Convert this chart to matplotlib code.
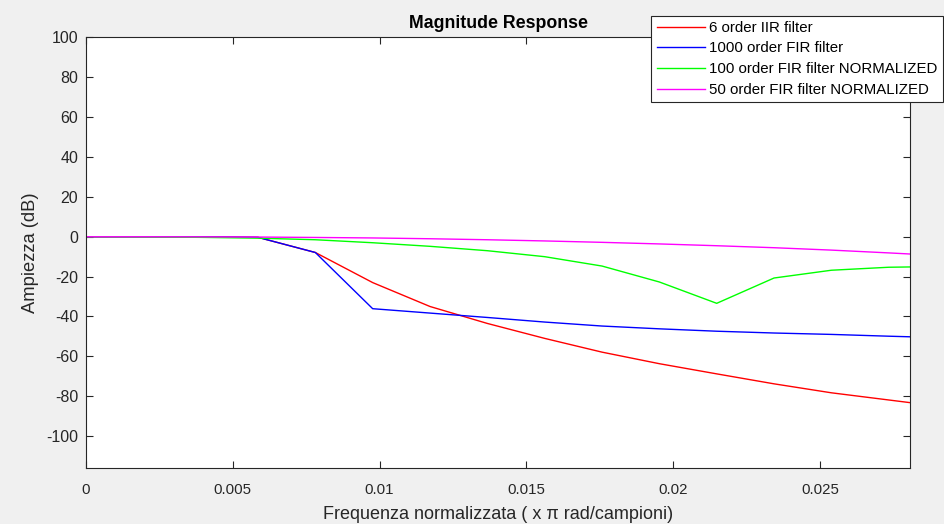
import matplotlib
matplotlib.use("Agg")
import matplotlib.pyplot as plt
import numpy as np

# Normalized frequency bins (k/512, x pi rad/sample)
bins = list(range(16))
n_fft = 512

iir6_db = [0.0, 0.0, -0.05, -0.3, -7.9, -23.0, -35.0, -43.5, -51.0,
           -57.9, -63.7, -68.8, -73.8, -78.3, -81.9, -85.5]
fir1000_db = [0.0, 0.0, -0.05, -0.3, -7.9, -36.1, -38.3, -40.5, -42.8,
              -44.8, -46.2, -47.4, -48.3, -49.0, -49.9, -50.7]
fir100n_db = [0.0, -0.1, -0.3, -0.7, -1.5, -3.0, -4.8, -7.0, -10.0,
              -14.7, -22.7, -33.4, -20.7, -16.8, -15.3, -14.9]
fir50n_db = [0.0, 0.0, -0.05, -0.15, -0.35, -0.6, -1.0, -1.5, -2.1,
             -2.8, -3.6, -4.5, -5.5, -6.7, -8.1, -9.6]

labels = ["6 order IIR filter", "1000 order FIR filter",
          "100 order FIR filter NORMALIZED", "50 order FIR filter NORMALIZED"]
colors = ["#ff0000", "#0000ff", "#00ff00", "#ff00ff"]

x_ticks = [0, 0.005, 0.01, 0.015, 0.02, 0.025]
x_tick_labels = ["0", "0.005", "0.01", "0.015", "0.02", "0.025"]
y_ticks = list(range(-100, 101, 20))

plt.rcParams['font.family'] = ['Liberation Sans', 'DejaVu Sans']
plt.rcParams['axes.unicode_minus'] = False

freq = np.array(bins) / n_fft

fig = plt.figure(figsize=(9.45, 5.24), dpi=100, facecolor="#f0f0f0")
ax = fig.add_axes([0.091, 0.107, 0.872, 0.8215])
ax.set_facecolor("white")

for ydata, lab, col in zip([iir6_db, fir1000_db, fir100n_db, fir50n_db], labels, colors):
    ax.plot(freq, ydata, color=col, lw=1.0, label=lab)

ax.set_xlim(0, 0.02807)
ax.set_ylim(-116, 100)
ax.set_xticks(x_ticks)
ax.set_xticklabels(x_tick_labels)
ax.set_yticks(y_ticks)

edge = "#262626"
for sp in ax.spines.values():
    sp.set_color(edge)
    sp.set_linewidth(0.8)
ax.tick_params(direction="in", length=5, width=0.8, colors=edge,
               labelcolor=edge, top=True, right=True)
ax.tick_params(axis="x", labelsize=10.8, pad=11)
ax.tick_params(axis="y", labelsize=11.5, pad=5.5)

ax.set_title("Magnitude Response", fontsize=12.8, fontweight="bold", color="black", pad=7)
ax.set_ylabel("Ampiezza (dB)", fontsize=13.2, color=edge, labelpad=5)
ax.set_xlabel("Frequenza normalizzata ( x \u03c0 rad/campioni)", fontsize=13,
              color=edge, labelpad=6)

leg = fig.legend(loc="upper left", bbox_to_anchor=(651.5 / 945, 1 - 15.5 / 524),
                 fontsize=10.8, frameon=True, fancybox=False, handlelength=3.2,
                 handletextpad=0.3, labelspacing=0.45, borderpad=0.35,
                 borderaxespad=0)
leg.get_frame().set_edgecolor("#262626")
leg.get_frame().set_linewidth(0.8)
leg.get_frame().set_alpha(1.0)

fig.savefig("out.png", dpi=100, facecolor=fig.get_facecolor())
